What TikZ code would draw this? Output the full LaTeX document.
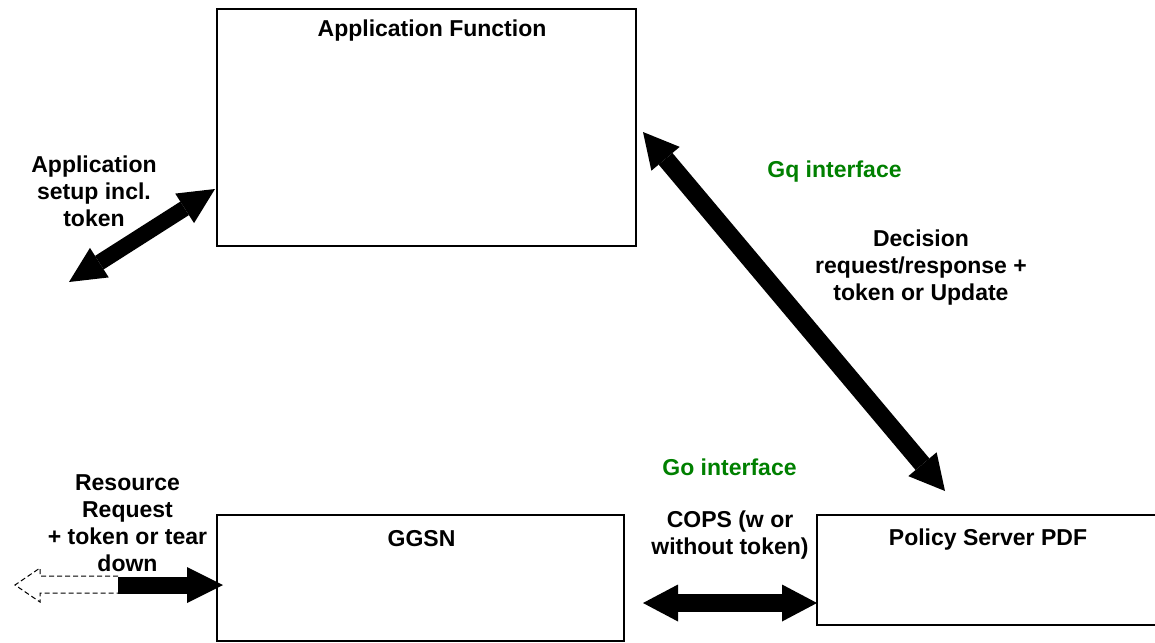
\documentclass[tikz,border=0pt]{standalone}
\usepackage{fontspec}
\setmainfont{Liberation Sans}
\usetikzlibrary{arrows.meta}
\definecolor{ifgreen}{RGB}{0,128,0}
\begin{document}
\begin{tikzpicture}[x=1pt,y=-1pt,
  box/.style={draw, line width=1.2pt, inner sep=0pt, outer sep=0pt},
  lbl/.style={font=\fontsize{23}{27}\selectfont\bfseries, align=center, inner sep=0pt, anchor=base},
  iface/.style={lbl, text=ifgreen},
  fat/.style={line width=18pt, {Triangle[length=35pt,width=37pt,line width=0pt]}-{Triangle[length=35pt,width=37pt,line width=0pt]}},
  fatapp/.style={line width=16pt, {Triangle[length=36pt,width=35pt,line width=0pt]}-{Triangle[length=36pt,width=35pt,line width=0pt]}},
  fatone/.style={line width=17pt, -{Triangle[length=36pt,width=36pt,line width=0pt]}},
  ghost/.style={draw, line width=1pt, dash pattern=on 5pt off 3pt},
]
\useasboundingbox (0,0) rectangle (1155,642);
% boxes
\node[box, minimum width=419pt, minimum height=237pt] (af) at (426.5,127.5) {};
\node[box, minimum width=407pt, minimum height=126pt] (ggsn) at (420.5,578) {};
\node[box, minimum width=343pt, minimum height=110pt] (pdf) at (988.5,570) {};
% box titles
\node[lbl] (afT) at (432,37) {Application Function};
\node[lbl] (ggsnT) at (421.5,546) {GGSN};
\node[lbl] (pdfT) at (988,545) {Policy Server PDF};
% connector end points
\coordinate (appFree) at (69,282);
\coordinate (appEnd) at (215,189);
\coordinate (gqTop) at (643,132);
\coordinate (gqBot) at (945,491);
\coordinate (goL) at (643,603);
\coordinate (goR) at (817,603);
\coordinate (resMid) at (118,585);
\coordinate (resTip) at (223,585);
% connectors
\draw[fatapp] (appFree) -- (appEnd);
\draw[fat] (gqTop) -- (gqBot);
\draw[fat] (goL) -- (goR);
\draw[fatone] (resMid) -- (resTip);
\draw[ghost] (118,576) -- (40,576) -- (40,568) -- (15,585) -- (40,602) -- (40,593) -- (118,593);
% labels (base = baseline of the last line)
\node[lbl] (appTxt) at (94,226) {Application\\setup incl.\\token};
\node[iface] (gq) at (834.5,177) {Gq interface};
\node[lbl] (dec) at (921,300) {Decision\\request/response +\\token or Update};
\node[iface] (go) at (729.5,475) {Go interface};
\node[lbl] (cops) at (730,554) {COPS (w or\\without token)};
\node[lbl] (res) at (127.5,571) {Resource\\Request\\+ token or tear\\down};
\end{tikzpicture}
\end{document}
